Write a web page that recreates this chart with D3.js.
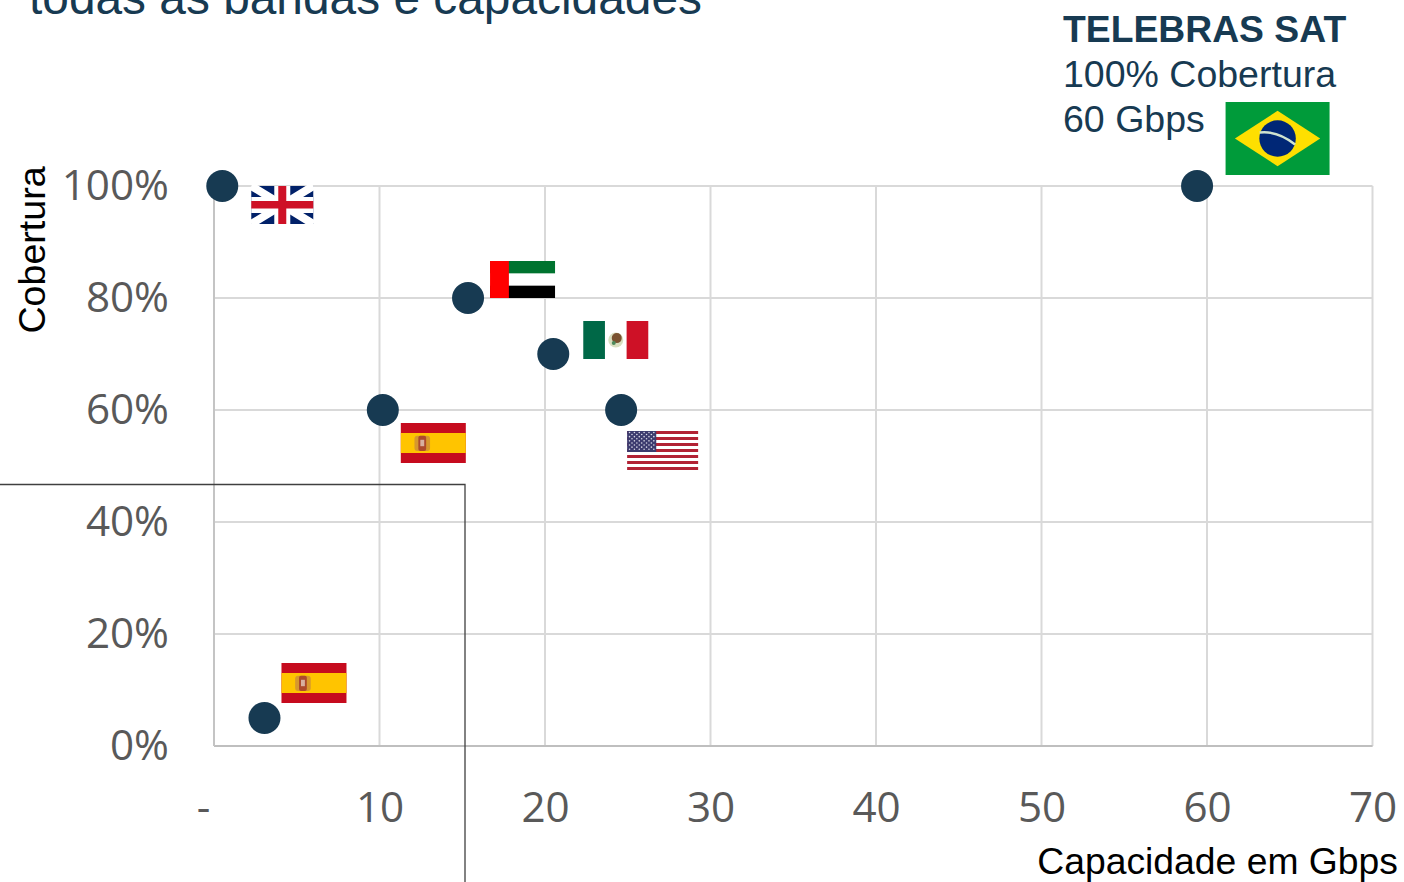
<!DOCTYPE html>
<html lang="pt">
<head>
<meta charset="utf-8">
<style>
  html, body { margin: 0; padding: 0; background: #fff; overflow: hidden; }
  svg { display: block; }
  .tick-label text { font: 42.2px "Open Sans", sans-serif; fill: #595959; }
  .axis-title { font: 37.3px "Liberation Sans", Arial, sans-serif; fill: #000; }
  .note { font: 37.5px "Liberation Sans", Arial, sans-serif; fill: #173a52; }
</style>
<script src="https://d3js.org/d3.v7.min.js" charset="utf-8"></script>
</head>
<body>

<script>
  // values
  let countries = ["uk", "uae", "mexico", "spain", "usa", "brazil", "spain"];
  let capacity = [0.5, 15.35, 20.5, 10.2, 24.6, 59.4, 3.05];
  let coverage = [100, 80, 70, 60, 60, 100, 5];
  let xTicks = [0, 10, 20, 30, 40, 50, 60, 70];
  let yTicks = [0, 20, 40, 60, 80, 100];

  let pageWidth = 1404;
  let pageHeight = 882;
  let left = 214, right = 1372.5, top_ = 186, bottom = 746;
  let navy = "#173a52";

  let svg = d3.select("body").append("svg")
    .attr("width", pageWidth)
    .attr("height", pageHeight);

  let x = d3.scaleLinear().domain([0, 70]).range([left, right]);
  let y = d3.scaleLinear().domain([0, 100]).range([bottom, top_]);

  // gridlines, one axis call each
  let xGrid = svg.append("g")
    .attr("transform", "translate(-0.5," + bottom + ")")
    .call(d3.axisBottom(x).tickValues(xTicks).tickSize(top_ - bottom).tickFormat(""));
  let yGrid = svg.append("g")
    .attr("transform", "translate(" + left + ",-0.5)")
    .call(d3.axisLeft(y).tickValues(yTicks).tickSize(left - right).tickFormat(""));
  [xGrid, yGrid].forEach(function(g) {
    g.select(".domain").remove();
    g.selectAll("line").attr("stroke", "#d9d9d9").attr("stroke-width", 2);
  });

  // zero lines are a little darker
  svg.append("line").attr("x1", left).attr("x2", right).attr("y1", y(0)).attr("y2", y(0))
    .attr("stroke", "#bfbfbf").attr("stroke-width", 2);
  svg.append("line").attr("x1", left).attr("x2", left).attr("y1", y(0)).attr("y2", y(100))
    .attr("stroke", "#c4c4c4").attr("stroke-width", 2);

  // tick labels
  let xLabels = svg.append("g")
    .attr("class", "tick-label")
    .attr("transform", "translate(0," + bottom + ")")
    .call(d3.axisBottom(x).tickValues(xTicks).tickSize(0).tickPadding(41)
      .tickFormat(function(d) { return d === 0 ? "-" : d; }));
  xLabels.select(".domain").remove();
  xLabels.selectAll("text")
    .attr("dy", "0.36em")
    .attr("dx", function(d) { return d === 0 ? -11 : 0; })
    .attr("y", 60.5);

  let yLabels = svg.append("g")
    .attr("class", "tick-label")
    .attr("transform", "translate(" + left + ",0)")
    .call(d3.axisLeft(y).tickValues(yTicks).tickSize(0).tickPadding(45)
      .tickFormat(function(d) { return d + "%"; }));
  yLabels.select(".domain").remove();
  yLabels.selectAll("text").attr("dy", "0.31em");

  // stray box corner from the slide
  svg.append("path")
    .attr("d", "M0,484.5H465V882")
    .attr("fill", "none")
    .attr("stroke", "#404040")
    .attr("stroke-width", 1.3);

  // title, cut by the top of the page
  svg.append("text")
    .attr("x", 29).attr("y", 14)
    .attr("font-family", "'Liberation Sans', Arial, sans-serif")
    .attr("font-size", 47.85)
    .attr("fill", navy)
    .text("todas as bandas e capacidades");

  svg.append("text").attr("class", "axis-title")
    .attr("x", 1398).attr("y", 874)
    .attr("text-anchor", "end")
    .text("Capacidade em Gbps");
  svg.append("text").attr("class", "axis-title")
    .attr("transform", "translate(45,250) rotate(-90)")
    .attr("text-anchor", "middle")
    .style("font-size", "37.6px")
    .text("Cobertura");

  svg.append("text").attr("class", "note").attr("x", 1063).attr("y", 42)
    .style("font-weight", "bold").style("font-size", "37.3px")
    .text("TELEBRAS SAT");
  svg.append("text").attr("class", "note").attr("x", 1063).attr("y", 87).text("100% Cobertura");
  svg.append("text").attr("class", "note").attr("x", 1063).attr("y", 132).text("60 Gbps");

  // flag drawing, each in its own pixel box
  function rect(g, a, b, w, h, fill) {
    return g.append("rect").attr("x", a).attr("y", b).attr("width", w).attr("height", h).attr("fill", fill);
  }

  function drawSpain(g, w, h) {
    rect(g, 0, 0, w, h, "#c60b1e");
    rect(g, 0, h * 0.25, w, h * 0.5, "#ffc400");
    rect(g, w * 0.21, h * 0.32, w * 0.24, h * 0.38, "#c98a3c").attr("rx", 3).attr("opacity", 0.75);
    rect(g, w * 0.27, h * 0.32, w * 0.12, h * 0.38, "#ad4a2c").attr("rx", 2);
    rect(g, w * 0.3, h * 0.42, w * 0.06, h * 0.16, "#d8b0a0");
  }

  function drawUk(g, w, h) {
    rect(g, 0, 0, w, h, "#012169");
    g.append("path").attr("d", "M0,0L" + w + "," + h + "M" + w + ",0L0," + h)
      .attr("stroke", "#fff").attr("stroke-width", 8);
    rect(g, 0, h / 2 - 8, w, 16, "#fff");
    rect(g, w / 2 - 8, 0, 16, h, "#fff");
    rect(g, 0, h / 2 - 4, w, 7.5, "#ce1126");
    rect(g, w / 2 - 4, 0, 8, h, "#ce1126");
  }

  function drawUae(g, w, h) {
    rect(g, 0, 0, w, h, "#fff");
    rect(g, 0, 0, w, h / 3, "#00732f");
    rect(g, 0, h * 2 / 3, w, h / 3, "#000");
    rect(g, 0, 0, w * 0.29, h, "#ff0000");
  }

  function drawMexico(g, w, h) {
    rect(g, 0, 0, w, h, "#fff");
    rect(g, 0, 0, w / 3, h, "#006847");
    rect(g, w * 2 / 3, 0, w / 3, h, "#ce1126");
    g.append("circle").attr("cx", w / 2).attr("cy", h * 0.5).attr("r", 7.5).attr("fill", "#d9dfc0");
    g.append("circle").attr("cx", w / 2 + 1).attr("cy", h * 0.45).attr("r", 5).attr("fill", "#7a5230");
    g.append("circle").attr("cx", w / 2 - 2).attr("cy", h * 0.58).attr("r", 2).attr("fill", "#4d8a5c");
  }

  function drawUsa(g, w, h) {
    let stripe = h / 13;
    rect(g, 0, 0, w, h, "#fff");
    d3.range(0, 13, 2).forEach(function(i) {
      rect(g, 0, i * stripe, w, stripe, "#b22234");
    });
    rect(g, 0, 0, w * 0.41, stripe * 7, "#3c3b6e");
    d3.range(9).forEach(function(r) {
      d3.range(r % 2 ? 5 : 6).forEach(function(c) {
        g.append("circle")
          .attr("cx", (c + (r % 2 ? 1 : 0.5)) * w * 0.41 / 6)
          .attr("cy", (r + 0.7) * stripe * 7 / 10)
          .attr("r", 0.8)
          .attr("fill", "#d8d8e6");
      });
    });
  }

  function drawBrazil(g, w, h) {
    rect(g, 0, 0, w, h, "#009b3a");
    g.append("polygon")
      .attr("points", [[w * 0.09, h / 2], [w / 2, h * 0.12], [w * 0.91, h / 2], [w / 2, h * 0.88]].join(" "))
      .attr("fill", "#fedf00");
    g.append("circle").attr("cx", w / 2).attr("cy", h / 2).attr("r", h * 0.25).attr("fill", "#002776");
    g.append("path")
      .attr("d", "M" + (w / 2 - h * 0.245) + "," + (h / 2 - 6) + "Q" + (w / 2) + "," + (h / 2 - 8) + " " + (w / 2 + h * 0.24) + "," + (h / 2 + 6))
      .attr("fill", "none").attr("stroke", "#cfe3cf").attr("stroke-width", 2.5);
  }

  // flag box relative to its point: dx, dy, w, h
  let flagStyles = {
    uk: { draw: drawUk, box: [29, 0, 62, 38] },
    uae: { draw: drawUae, box: [22, -37, 65, 37] },
    mexico: { draw: drawMexico, box: [30, -33, 65, 38] },
    usa: { draw: drawUsa, box: [6, 21, 71, 39] },
    brazil: { draw: drawBrazil, box: [28.5, -84, 104, 73] }
  };
  // the two Spanish flags sit differently around their points
  let spainBoxes = { 60: [18, 13, 65, 40], 5: [17, -55, 65, 40] };

  let points = countries.map(function(c, i) {
    return { country: c, capacity: capacity[i], coverage: coverage[i] };
  });

  svg.selectAll("g.flag")
    .data(points)
    .join("g")
    .attr("class", "flag")
    .each(function(d) {
      let style = flagStyles[d.country];
      let box = style ? style.box : spainBoxes[d.coverage];
      let g = d3.select(this)
        .attr("transform", "translate(" + (x(d.capacity) + box[0]) + "," + (y(d.coverage) + box[1]) + ")");
      (style ? style.draw : drawSpain)(g, box[2], box[3]);
    });

  svg.selectAll("circle.point")
    .data(points)
    .join("circle")
    .attr("class", "point")
    .attr("cx", function(d) { return x(d.capacity); })
    .attr("cy", function(d) { return y(d.coverage); })
    .attr("r", 16)
    .attr("fill", navy);
</script>

</body>
</html>
